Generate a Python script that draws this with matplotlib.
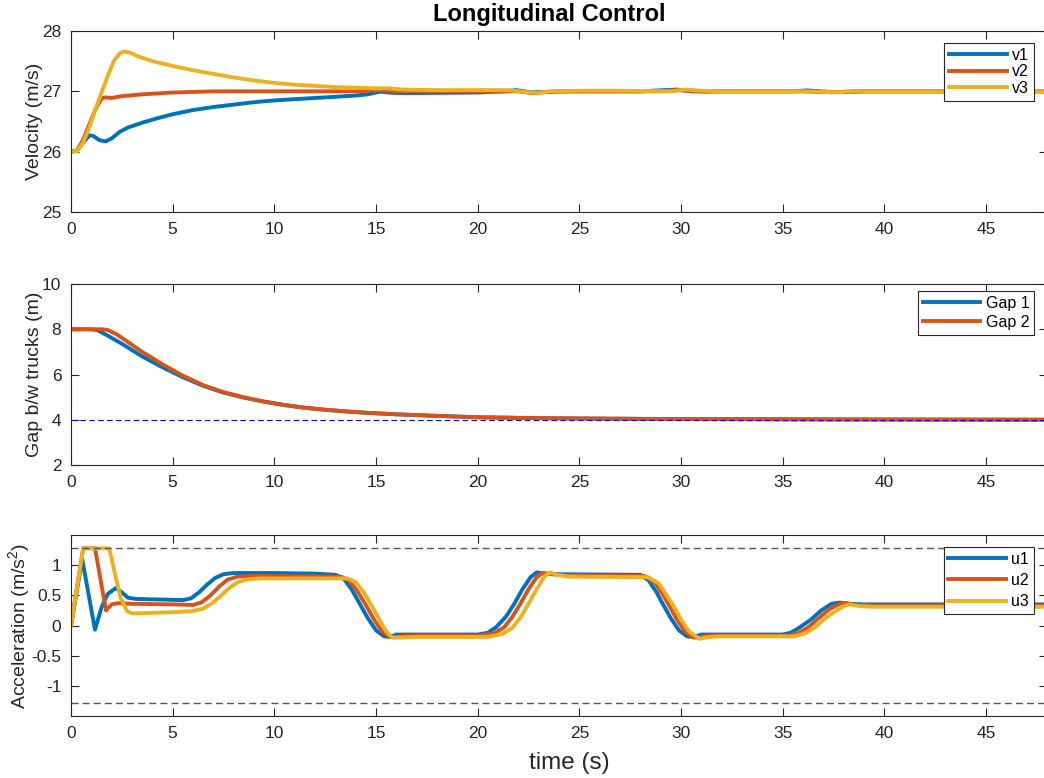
import numpy as np
import matplotlib
matplotlib.use("Agg")
import matplotlib.pyplot as plt
from matplotlib.ticker import FormatStrFormatter

plt.rcParams['font.family'] = ['Liberation Sans', 'DejaVu Sans']
plt.rcParams['mathtext.fontset'] = 'custom'
plt.rcParams['mathtext.rm'] = 'Liberation Sans'
plt.rcParams['mathtext.it'] = 'Liberation Sans'

C1, C2, C3 = '#0072BD', '#D95319', '#EDB120'
GREY = '#262626'

# ---- velocity (m/s)
t_v1 = [0, 0.3, 0.6, 0.9, 1.1, 1.4, 1.7, 2.0, 2.4, 2.8, 3.5, 4.2, 5, 6, 7, 8, 9, 10, 11, 12, 13,
        14, 14.6, 15.2, 15.8, 16.5, 18, 20, 21.3, 21.9, 22.6, 23.3, 24, 26, 28, 29.2, 29.8, 30.5,
        31.2, 32, 34, 35.5, 36.2, 36.9, 37.6, 38.3, 39, 42, 45, 48]
v1 = [26.0, 26.02, 26.15, 26.27, 26.26, 26.19, 26.17, 26.22, 26.33, 26.40, 26.48, 26.55, 26.62,
      26.69, 26.74, 26.78, 26.82, 26.85, 26.87, 26.89, 26.91, 26.93, 26.95, 26.995, 26.975, 26.97,
      26.975, 26.98, 27.0, 27.02, 26.985, 26.99, 27.0, 27.0, 27.0, 27.02, 27.03, 27.0, 26.995, 27.0,
      27.0, 27.0, 27.015, 27.0, 26.985, 26.99, 27.0, 27.0, 27.0, 27.0]

t_v2 = [0, 0.3, 0.6, 0.9, 1.2, 1.5, 1.7, 2.0, 2.5, 3.5, 5, 7, 10, 14, 15.2, 16, 21, 22, 22.7,
        23.5, 24.5, 29, 29.8, 30.5, 31.3, 36, 37.4, 38.5, 48]
v2 = [26.0, 26.02, 26.2, 26.45, 26.7, 26.88, 26.9, 26.89, 26.92, 26.95, 26.98, 27.0, 27.0, 27.0,
      27.02, 27.0, 27.0, 27.0, 26.97, 26.99, 27.0, 27.0, 27.02, 27.01, 27.0, 27.0, 26.985, 27.0, 27.0]

t_v3 = [0, 0.3, 0.6, 0.9, 1.2, 1.5, 1.8, 2.1, 2.4, 2.6, 2.9, 3.3, 4, 5, 6, 7, 8, 9, 10, 11, 12,
        13, 14, 15, 15.6, 16.3, 18, 20, 21.5, 22.3, 22.9, 23.6, 25, 27, 29.5, 30.2, 31, 32, 36,
        37.6, 38.6, 48]
v3 = [26.0, 26.01, 26.15, 26.4, 26.7, 26.98, 27.25, 27.5, 27.63, 27.66, 27.64, 27.58, 27.5, 27.42,
      27.35, 27.29, 27.23, 27.18, 27.14, 27.11, 27.09, 27.07, 27.06, 27.05, 27.05, 27.03, 27.02,
      27.02, 27.02, 26.99, 26.975, 27.0, 27.01, 27.01, 27.0, 27.03, 27.01, 27.0, 27.0, 26.985,
      27.0, 27.0]

# ---- gap between trucks (m)
t_g1 = [0, 1.0, 1.3, 1.8, 2.5, 3.5, 4.5, 5.5, 6.5, 7.5, 8.5, 9.5, 10.5, 11.5, 12.5, 13.5, 14.5,
        16, 18, 20, 23, 26, 30, 35, 40, 48]
gap1 = [8.0, 8.0, 7.96, 7.72, 7.36, 6.8, 6.32, 5.88, 5.5, 5.2, 4.98, 4.8, 4.65, 4.53, 4.44, 4.37,
        4.31, 4.24, 4.17, 4.11, 4.07, 4.05, 4.03, 4.02, 4.01, 4.0]
t_g2 = [0, 1.5, 1.8, 2.2, 2.7, 3.5, 4.5, 5.5, 6.5, 7.5, 8.5, 9.5, 10.5, 11.5, 12.5, 13.5, 14.5,
        16, 18, 20, 23, 26, 30, 35, 40, 48]
gap2 = [8.0, 8.0, 7.97, 7.8, 7.5, 7.0, 6.45, 5.95, 5.53, 5.22, 4.99, 4.8, 4.65, 4.53, 4.44, 4.37,
        4.31, 4.24, 4.17, 4.11, 4.07, 4.05, 4.03, 4.02, 4.01, 4.0]
gap_ref = 4.0

# ---- acceleration (m/s^2)
t_u1 = [0, 0.55, 1.18, 1.5, 1.8, 2.2, 2.5, 2.8, 3.2, 4.5, 5.5, 5.9, 6.3, 6.7, 7.1, 7.5, 8, 10, 12,
        13, 13.4, 13.8, 14.2, 14.6, 15.0, 15.4, 15.7, 16.0, 17, 20, 20.5, 20.9, 21.4, 21.8, 22.2,
        22.6, 22.9, 23.3, 24, 28, 28.4, 28.8, 29.1, 29.5, 29.9, 30.3, 30.6, 31, 35, 35.4, 35.8,
        36.4, 36.9, 37.4, 37.8, 38.3, 39, 48]
u1 = [0, 1.1, -0.07, 0.3, 0.52, 0.62, 0.55, 0.46, 0.44, 0.43, 0.42, 0.45, 0.55, 0.68, 0.79, 0.85,
      0.87, 0.87, 0.86, 0.84, 0.78, 0.6, 0.36, 0.12, -0.08, -0.18, -0.19, -0.15, -0.15, -0.15,
      -0.12, -0.03, 0.15, 0.36, 0.6, 0.8, 0.88, 0.86, 0.85, 0.84, 0.75, 0.55, 0.36, 0.12, -0.08,
      -0.18, -0.19, -0.15, -0.15, -0.12, -0.04, 0.1, 0.25, 0.36, 0.38, 0.36, 0.35, 0.35]

t_u2 = [0, 0.6, 1.18, 1.72, 2.0, 2.3, 3, 5, 6, 6.4, 6.8, 7.3, 7.7, 8.2, 9, 13.3, 13.7, 14.1, 14.5,
        14.9, 15.3, 15.7, 16.0, 16.4, 20, 20.8, 21.3, 21.7, 22.1, 22.5, 22.9, 23.2, 23.6, 24.4,
        28.2, 28.7, 29.1, 29.4, 29.8, 30.2, 30.6, 30.9, 31.3, 35.3, 35.8, 36.3, 36.8, 37.3, 37.8,
        38.1, 38.6, 39.5, 48]
u2 = [0, 1.28, 1.28, 0.25, 0.35, 0.37, 0.36, 0.35, 0.34, 0.38, 0.48, 0.65, 0.76, 0.81, 0.82, 0.81,
      0.74, 0.56, 0.34, 0.1, -0.1, -0.19, -0.19, -0.17, -0.17, -0.13, -0.03, 0.14, 0.36, 0.6, 0.8,
      0.87, 0.85, 0.83, 0.82, 0.72, 0.52, 0.34, 0.1, -0.1, -0.2, -0.2, -0.17, -0.17, -0.12, -0.02,
      0.13, 0.27, 0.36, 0.37, 0.34, 0.33, 0.33]

t_u3 = [0, 0.6, 1.88, 2.16, 2.45, 2.75, 3.0, 4, 5, 6, 6.5, 6.9, 7.3, 7.7, 8.15, 8.6, 9.3, 13.6, 14.0,
        14.4, 14.8, 15.2, 15.5, 15.8, 16.2, 17, 20.5, 21.2, 21.7, 22.1, 22.5, 22.9, 23.3, 23.56,
        23.9, 24.5, 28.4, 28.9, 29.3, 29.6, 30.0, 30.4, 30.9, 31.2, 31.8, 35.6, 36.1, 36.6, 37.1,
        37.6, 38.0, 38.3, 38.8, 39.5, 48]
u3 = [0, 1.28, 1.28, 0.86, 0.45, 0.24, 0.2, 0.21, 0.22, 0.24, 0.28, 0.36, 0.47, 0.6, 0.71, 0.76,
      0.78, 0.78, 0.72, 0.55, 0.32, 0.08, -0.1, -0.2, -0.2, -0.19, -0.19, -0.14, -0.04, 0.13, 0.36,
      0.6, 0.82, 0.88, 0.84, 0.81, 0.8, 0.7, 0.5, 0.34, 0.1, -0.1, -0.22, -0.2, -0.18, -0.18, -0.13,
      -0.03, 0.12, 0.24, 0.32, 0.35, 0.32, 0.31, 0.31]
u_limit = 1.28


def style(ax, ylim, yticks):
    ax.set_xlim(0, 48)
    ax.set_ylim(*ylim)
    ax.set_xticks(np.arange(0, 50, 5))
    ax.set_yticks(yticks)
    ax.yaxis.set_major_formatter(FormatStrFormatter('%g'))
    ax.tick_params(direction='in', top=True, right=True, length=5.5, width=0.8,
                   labelsize=12.5, colors=GREY, pad=7)
    for s in ax.spines.values():
        s.set_color(GREY)
        s.set_linewidth(0.8)


def legend(ax, anchor, spacing):
    lg = ax.legend(loc='upper right', bbox_to_anchor=anchor, fontsize=11.5, handlelength=3.6,
                   fancybox=False, framealpha=1, edgecolor=GREY, borderaxespad=0,
                   labelspacing=spacing, handletextpad=0.35, borderpad=0.3)
    lg.get_frame().set_linewidth(0.8)


fig = plt.figure(figsize=(10.44, 7.78), dpi=100)
L, W, H = 71 / 1044, 976 / 1044, 181 / 778
ax1 = fig.add_axes([L, (778 - 212) / 778, W, H])
ax2 = fig.add_axes([L, (778 - 465) / 778, W, H])
ax3 = fig.add_axes([L, (778 - 716) / 778, W, H])

lw = 2.8
ax1.plot(t_v1, v1, color=C1, lw=lw, label='v1')
ax1.plot(t_v2, v2, color=C2, lw=lw, label='v2')
ax1.plot(t_v3, v3, color=C3, lw=lw, label='v3')
style(ax1, (25, 28), [25, 26, 27, 28])
ax1.set_ylabel('Velocity (m/s)', fontsize=14, color=GREY)
ax1.yaxis.set_label_coords(-0.029, 0.5)
legend(ax1, (0.9867, 0.935), 0.1)

ax2.plot(t_g1, gap1, color=C1, lw=lw, label='Gap 1')
ax2.plot(t_g2, gap2, color=C2, lw=lw, label='Gap 2')
ax2.axhline(gap_ref, color='blue', ls='--', lw=0.8, dashes=(5, 3))
style(ax2, (2, 10), [2, 4, 6, 8, 10])
ax2.set_ylabel('Gap b/w trucks (m)', fontsize=14, color=GREY)
ax2.yaxis.set_label_coords(-0.029, 0.5)
legend(ax2, (0.9867, 0.961), 0.25)

ax3.plot(t_u1, u1, color=C1, lw=lw, label='u1')
ax3.plot(t_u2, u2, color=C2, lw=lw, label='u2')
ax3.plot(t_u3, u3, color=C3, lw=lw, label='u3')
ax3.axhline(u_limit, color='#555555', ls='--', lw=1.0, dashes=(5, 3))
ax3.axhline(-u_limit, color='#555555', ls='--', lw=1.0, dashes=(5, 3))
style(ax3, (-1.5, 1.5), [-1, -0.5, 0, 0.5, 1])
ax3.set_ylabel(r'Acceleration (m/s$^2$)', fontsize=14, color=GREY)
ax3.yaxis.set_label_coords(-0.040, 0.5)
legend(ax3, (0.9867, 0.935), 0.4)

fig.text(549 / 1044, 1 - 15 / 778, 'Longitudinal Control', ha='center', va='center',
         fontsize=17, fontweight='bold')
fig.text(569 / 1044, 1 - 763 / 778, 'time (s)', ha='center', va='center',
         fontsize=17.5, color=GREY)

fig.savefig('out.png', dpi=100)
